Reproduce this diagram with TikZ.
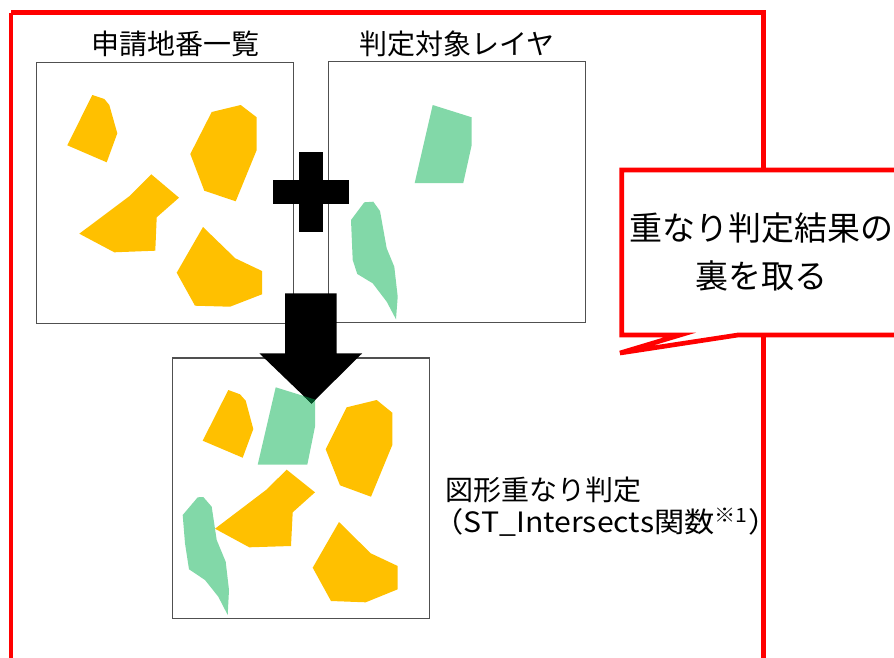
\documentclass[tikz,border=0pt]{standalone}
\usepackage{fontspec}
\newfontfamily\jp{Noto Sans CJK JP}
\definecolor{fyellow}{RGB}{255,192,0}
\definecolor{fgreen}{RGB}{130,216,168}
\definecolor{fdark}{RGB}{0,85,40}
\definecolor{boxgray}{RGB}{80,80,80}
\tikzset{
  panel/.style={draw=boxgray,line width=1.4pt},
  parcel/.style={fill=fyellow},
  layer/.style={fill=fgreen},
  redline/.style={draw=red,line width=4.7pt},
  title/.style={font=\jp\fontsize{28}{34}\selectfont,inner sep=0pt,anchor=base},
  note/.style={font=\jp\fontsize{28}{34}\selectfont,inner sep=0pt,anchor=base west},
  calltext/.style={font=\jp\fontsize{33}{40}\selectfont,inner sep=0pt,anchor=base}
}
\begin{document}
\begin{tikzpicture}[x=1pt,y=-1pt]
\useasboundingbox (0,0) rectangle (894,657);
% outer red frame
\draw[redline] (11,12.5) -- (763.8,12.5) -- (763.8,700) (11,12.5) -- (11,700);
% panels
\draw[panel] (36.7,62.3) rectangle (293.3,323.3);
\draw[panel] (328.3,61.7) rectangle (585.3,322.7);
\draw[panel] (172.7,358) rectangle (429.3,618.7);
% titles
\node[title] (t1) at (175.8,54.6) {申請地番一覧};
\node[title] (t2) at (457,54.6) {判定対象レイヤ};
% panel 1 parcels
\fill[parcel] (92.3,95) -- (104.3,99) -- (109.3,105) -- (117.3,133.3) -- (106.7,162.3) -- (67.3,145.3) -- cycle;
\fill[parcel] (211.7,112) -- (240.7,105) -- (256.7,117.3) -- (256.7,150) -- (235.7,201.3) -- (204.3,190.7) -- (190.3,154) -- cycle;
\fill[parcel] (151.3,174.3) -- (179,197.7) -- (156.7,217.3) -- (155.3,250.7) -- (114.3,252.3) -- (79.3,233.7) -- (130,195.7) -- cycle;
\fill[parcel] (203,227) -- (235.3,258.3) -- (262,271) -- (262,294.3) -- (230,306.7) -- (195,305.7) -- (176.7,272.7) -- cycle;
% panel 2 layers
\fill[layer] (432.7,105) -- (471.7,117.3) -- (471.7,145) -- (463.3,183) -- (414.7,183) -- cycle;
\fill[layer] (373.3,201.7) -- (380,211) -- (386.7,248.3) -- (394.3,266.7) -- (397.7,296.7) -- (396,319.3) -- (386.7,301.7) -- (372.7,283.3) -- (357.3,274) -- (352.7,260) -- (351,220) -- (364.3,202.3) -- cycle;
% panel 3
\fill[parcel] (228.3,390) -- (240,394.3) -- (245.7,400.7) -- (253.3,429) -- (242.7,457.7) -- (202.7,440.7) -- cycle;
\fill[parcel] (346.7,407.3) -- (376.7,400) -- (392.3,412.7) -- (392.3,445) -- (371,496.7) -- (340,485.3) -- (325.7,449.3) -- cycle;
\fill[parcel] (286.7,469.7) -- (315,492.3) -- (292.7,512.3) -- (291,546) -- (249.3,547.3) -- (215,528.7) -- (266,490) -- cycle;
\fill[parcel] (339,522) -- (370.7,553.3) -- (397.7,566) -- (397.7,589.3) -- (365.7,602.3) -- (331,601) -- (312.7,567.7) -- cycle;
\fill[layer] (197.7,497.3) -- (203.3,497) -- (211.7,506.7) -- (216.7,540) -- (225.7,561.7) -- (229,590) -- (227.7,615) -- (218.3,596.7) -- (205,580) -- (189,569.3) -- (185,543.3) -- (182.7,515) -- cycle;
\fill[layer] (275.7,387.3) -- (315,399.5) -- (315,426.7) -- (307.3,464.7) -- (257.7,464.7) -- cycle;
% plus sign
\fill[black] (299,152.3) rectangle (323.3,232.3);
\fill[black] (272.7,180) rectangle (349,204.3);
% down arrow
\fill[black] (285,293.3) -- (336.7,293.3) -- (336.7,353.3) -- (362.2,353.3) -- (311.5,403.5) -- (259.3,353.3) -- (285,353.3) -- cycle;
\begin{scope}
\clip (285,293.3) -- (336.7,293.3) -- (336.7,353.3) -- (362.2,353.3) -- (311.5,403.5) -- (259.3,353.3) -- (285,353.3) -- cycle;
\fill[fdark] (275.7,387.3) -- (315,399.5) -- (315,426.7) -- (307.3,464.7) -- (257.7,464.7) -- cycle;
\end{scope}
% label
\node[note] (l1) at (445,500.6) {図形重なり判定};
\node[note] (l2) at (433.5,532) {\scalebox{1.08}[1]{（ST\_Intersects関数\textsuperscript{※1}）}};
% callout
\draw[redline,fill=white] (621.7,170) -- (905,170) -- (905,335) -- (738,335) -- (620,353) -- (680,335) -- (621.7,335) -- cycle;
\node[calltext] (c1) at (761,240.2) {重なり判定結果の};
\node[calltext] (c2) at (761,288.5) {裏を取る};
\end{tikzpicture}
\end{document}
